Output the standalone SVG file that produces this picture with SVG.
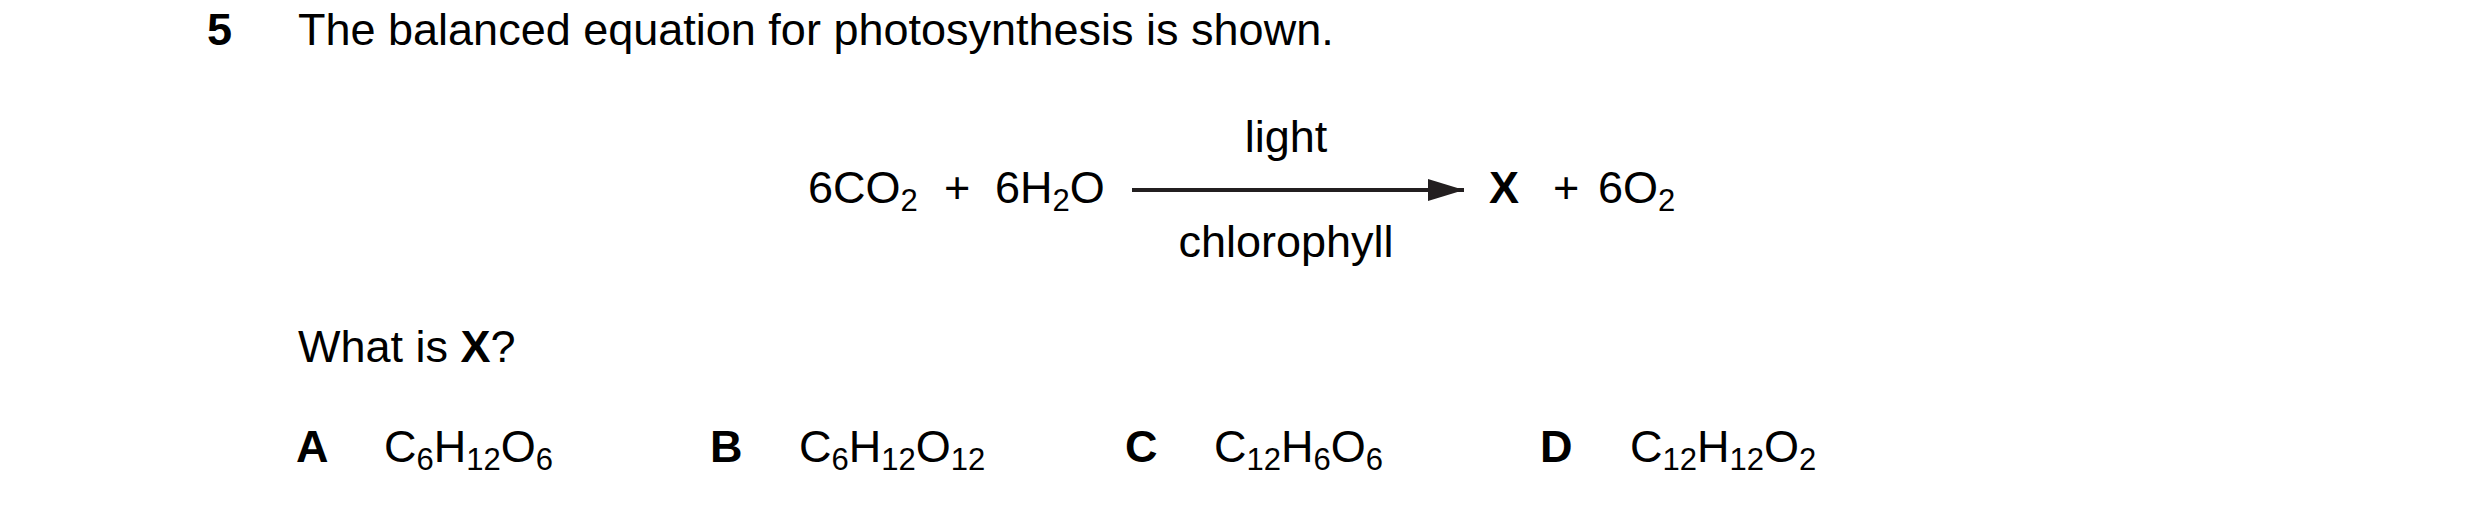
<svg xmlns="http://www.w3.org/2000/svg" width="2480" height="507" viewBox="0 0 2480 507">
<style>
text{font-family:"Liberation Sans",Arial,sans-serif;font-size:45px;fill:#000}
.b{font-weight:bold}
.s{font-size:31px}
</style>
<defs><marker id="ah" markerUnits="userSpaceOnUse" markerWidth="36" markerHeight="22" refX="36" refY="11" orient="auto"><path d="M0,0 L36,11 L0,22 Z" fill="#231f20"/></marker></defs>
<rect width="2480" height="507" fill="#fff"/>
<g id="question">
<text x="207" y="45" class="b">5</text>
<text x="298" y="45">The balanced equation for photosynthesis is shown.</text>
</g>
<g id="reactants"><text x="808" y="203">6CO<tspan class="s" dy="8">2</tspan><tspan dy="-8" x="944">+</tspan><tspan x="995">6H</tspan><tspan class="s" dy="8">2</tspan><tspan dy="-8">O</tspan></text></g>
<g id="connectors"><line x1="1132" y1="190" x2="1464" y2="190" stroke="#231f20" stroke-width="4" marker-end="url(#ah)"/></g>
<g id="labels">
<text x="1286" y="152" text-anchor="middle">light</text>
<text x="1286" y="257" text-anchor="middle">chlorophyll</text>
</g>
<g id="products"><text x="1489" y="203"><tspan class="b">X</tspan><tspan x="1553">+</tspan><tspan x="1598">6O</tspan><tspan class="s" dy="8">2</tspan></text></g>
<g id="ask"><text x="298" y="362">What is <tspan class="b">X</tspan>?</text></g>
<g id="options">
<text x="296" y="462" class="b">A</text>
<text x="384" y="462">C<tspan class="s" dy="8">6</tspan><tspan dy="-8">H</tspan><tspan class="s" dy="8">12</tspan><tspan dy="-8">O</tspan><tspan class="s" dy="8">6</tspan></text>
<text x="710" y="462" class="b">B</text>
<text x="799" y="462">C<tspan class="s" dy="8">6</tspan><tspan dy="-8">H</tspan><tspan class="s" dy="8">12</tspan><tspan dy="-8">O</tspan><tspan class="s" dy="8">12</tspan></text>
<text x="1125" y="462" class="b">C</text>
<text x="1214" y="462">C<tspan class="s" dy="8">12</tspan><tspan dy="-8">H</tspan><tspan class="s" dy="8">6</tspan><tspan dy="-8">O</tspan><tspan class="s" dy="8">6</tspan></text>
<text x="1540" y="462" class="b">D</text>
<text x="1630" y="462">C<tspan class="s" dy="8">12</tspan><tspan dy="-8">H</tspan><tspan class="s" dy="8">12</tspan><tspan dy="-8">O</tspan><tspan class="s" dy="8">2</tspan></text>
</g>
</svg>
